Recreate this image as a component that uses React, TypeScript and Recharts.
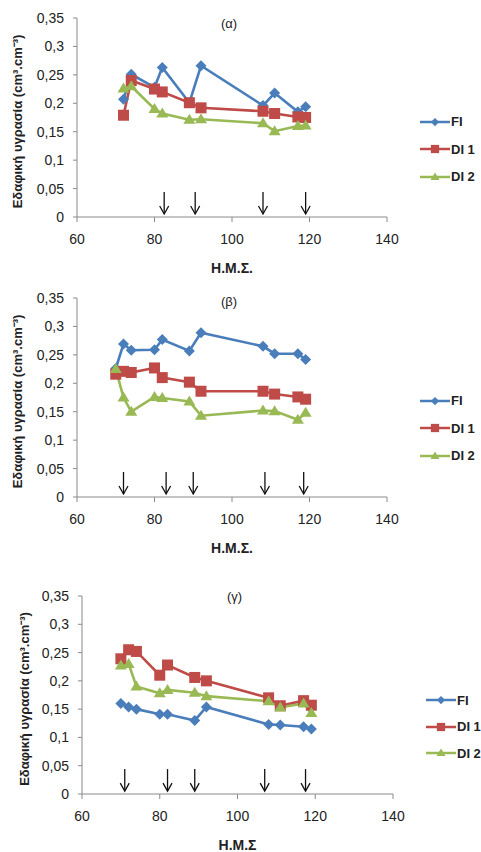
import React from 'react';
import { ComposedChart, Line, Scatter, XAxis, YAxis, Legend } from 'recharts';

// days after sowing (Η.Μ.Σ.)
const daysA = [72, 74, 80, 82, 89, 92, 108, 111, 117, 119];
const daysBG = [70, 72, 74, 80, 82, 89, 92, 108, 111, 117, 119];

// (α)
const fiA = [0.207, 0.251, 0.228, 0.263, 0.201, 0.266, 0.196, 0.218, 0.185, 0.194];
const di1A = [0.179, 0.24, 0.225, 0.22, 0.201, 0.192, 0.186, 0.182, 0.176, 0.175];
const di2A = [0.226, 0.23, 0.19, 0.182, 0.171, 0.172, 0.165, 0.151, 0.16, 0.161];
const irrigA = [82.5, 90.5, 108, 119];

// (β)
const fiB = [0.226, 0.269, 0.258, 0.259, 0.277, 0.257, 0.289, 0.265, 0.252, 0.252, 0.242];
const di1B = [0.216, 0.221, 0.219, 0.227, 0.21, 0.202, 0.186, 0.186, 0.181, 0.176, 0.172];
const di2B = [0.225, 0.175, 0.15, 0.176, 0.174, 0.168, 0.143, 0.152, 0.151, 0.136, 0.148];
const irrigB = [72, 83, 90, 108.5, 118.5];

// (γ)
const fiG = [0.16, 0.154, 0.15, 0.141, 0.141, 0.13, 0.154, 0.123, 0.122, 0.119, 0.115];
const di1G = [0.239, 0.255, 0.252, 0.21, 0.228, 0.206, 0.2, 0.17, 0.156, 0.165, 0.157];
const di2G = [0.227, 0.23, 0.19, 0.178, 0.184, 0.179, 0.173, 0.164, 0.153, 0.16, 0.143];
const irrigG = [71, 82, 89, 107, 117.5];

const arrowTop = 0.044;
const xTicks = [60, 80, 100, 120, 140];
const yTicks = [0, 0.05, 0.1, 0.15, 0.2, 0.25, 0.3, 0.35];
const seriesNames = ['FI', 'DI 1', 'DI 2'];
const yTitle = 'Εδαφική υγρασία (cm³.cm⁻³)';

const BLUE = '#4A7EBB';
const RED = '#BE4B48';
const GREEN = '#98B954';
const FONT = '"Liberation Sans", Arial, sans-serif';
const AXIS = '#8a8a8a';

const toRows = (xs: number[], ys: number[]) => xs.map((x, i) => ({ x, y: ys[i] }));
const fmt = (v: number) => String(v).replace('.', ',');

const drawMarker = (name: string, cx: number, cy: number, small = false) => {
  const k = small ? 0.75 : 1;
  if (name === 'FI') {
    const r = 5.5 * k;
    return <path d={`M${cx},${cy - r}L${cx + r},${cy}L${cx},${cy + r}L${cx - r},${cy}Z`} fill={BLUE} />;
  }
  if (name === 'DI 1') {
    const s = 11 * k;
    return <rect x={cx - s / 2} y={cy - s / 2} width={s} height={s} fill={RED} />;
  }
  const w = 12 * k;
  const h = 10 * k;
  return <path d={`M${cx},${cy - h * 0.6}L${cx + w / 2},${cy + h * 0.4}L${cx - w / 2},${cy + h * 0.4}Z`} fill={GREEN} />;
};

const dotFor = (name: string) => (p: any) => (
  <g key={`${name}-${p.index}`}>{drawMarker(name, p.cx, p.cy)}</g>
);

const Arrow = (p: any) => {
  const { cx, cy } = p;
  const L = 22;
  return (
    <g stroke="#111" strokeWidth={1.3} fill="none">
      <line x1={cx} y1={cy} x2={cx} y2={cy + L} />
      <polyline points={`${cx - 4.5},${cy + L - 8} ${cx},${cy + L} ${cx + 4.5},${cy + L - 8}`} />
    </g>
  );
};

const colorOf: Record<string, string> = { FI: BLUE, 'DI 1': RED, 'DI 2': GREEN };

const LegendBox = ({ gap }: { gap: number }) => (
  <div style={{ fontFamily: FONT, fontSize: 13, fontWeight: 'bold', color: '#222' }}>
    {seriesNames.map((n) => (
      <div key={n} style={{ display: 'flex', alignItems: 'center', height: gap }}>
        <svg width={30} height={14}>
          <line x1={0} y1={7} x2={30} y2={7} stroke={colorOf[n]} strokeWidth={2.5} />
          {drawMarker(n, 15, 7, true)}
        </svg>
        <span style={{ marginLeft: 1, whiteSpace: 'nowrap' }}>{n}</span>
      </div>
    ))}
  </div>
);

type PanelProps = {
  top: number;
  height: number;
  days: number[];
  fi: number[];
  di1: number[];
  di2: number[];
  irrig: number[];
  title: string;
  xTitle: string;
  plot: { l: number; r: number; t: number; b: number };
  yTitleX: number;
  titleY: number;
  legend: { x: number; y: number; gap: number };
};

const Panel = ({ top, height, days, fi, di1, di2, irrig, title, xTitle, plot, yTitleX, titleY, legend }: PanelProps) => {
  const yW = 50;
  const xH = 56;
  const legW = 60;
  const series = [
    { name: 'FI', data: toRows(days, fi), color: BLUE },
    { name: 'DI 1', data: toRows(days, di1), color: RED },
    { name: 'DI 2', data: toRows(days, di2), color: GREEN },
  ];
  return (
    <div style={{ position: 'absolute', left: 0, top, width: 481, height }}>
      <ComposedChart
        width={481}
        height={height}
        margin={{ top: plot.t, left: plot.l - yW, right: 481 - plot.r - legW, bottom: height - plot.b - xH }}
      >
        <XAxis
          type="number"
          dataKey="x"
          domain={[60, 140]}
          ticks={xTicks}
          height={xH}
          stroke={AXIS}
          tickSize={5}
          tickMargin={12}
          tick={{ fill: '#222', fontSize: 14, fontFamily: FONT }}
          label={{ value: xTitle, position: 'insideBottom', offset: 0, fill: '#222', fontSize: 14, fontWeight: 'bold', fontFamily: FONT }}
        />
        <YAxis
          type="number"
          domain={[0, 0.35]}
          ticks={yTicks}
          width={yW}
          stroke={AXIS}
          tickSize={4}
          tickMargin={9}
          tickFormatter={fmt}
          tick={{ fill: '#222', fontSize: 14, fontFamily: FONT }}
          label={() => {
            const cy = plot.t + (plot.b - plot.t) / 2 + 4;
            return (
              <text
                x={yTitleX}
                y={cy}
                transform={`rotate(-90, ${yTitleX}, ${cy})`}
                textAnchor="middle"
                dominantBaseline="central"
                fill="#222"
                fontSize={13}
                fontWeight="bold"
                fontFamily={FONT}
              >
                {yTitle}
              </text>
            );
          }}
        />
        <Legend
          layout="vertical"
          align="right"
          verticalAlign="top"
          wrapperStyle={{ left: legend.x, top: legend.y, width: legW }}
          content={() => <LegendBox gap={legend.gap} />}
        />
        {series.map((s) => (
          <Line
            key={s.name}
            name={s.name}
            data={s.data}
            dataKey="y"
            stroke={s.color}
            strokeWidth={2.6}
            dot={dotFor(s.name)}
            activeDot={false}
            isAnimationActive={false}
          />
        ))}
        <Scatter
          data={irrig.map((x) => ({ x, y: arrowTop }))}
          dataKey="y"
          shape={Arrow}
          legendType="none"
          isAnimationActive={false}
        />
      </ComposedChart>
      <div
        style={{
          position: 'absolute',
          left: 0,
          width: 2 * ((plot.l + plot.r) / 2 - 3),
          top: titleY - 8,
          textAlign: 'center',
          fontFamily: FONT,
          fontSize: 13,
          color: '#222',
        }}
      >
        {title}
      </div>
    </div>
  );
};

export default function App() {
  return (
    <div style={{ position: 'absolute', left: 0, top: 0, width: 481, height: 852, overflow: 'hidden', background: '#fff' }}>
      <Panel
        top={0}
        height={280}
        days={daysA}
        fi={fiA}
        di1={di1A}
        di2={di2A}
        irrig={irrigA}
        title="(α)"
        xTitle="Η.Μ.Σ."
        plot={{ l: 77, r: 387, t: 18, b: 217 }}
        yTitleX={17}
        titleY={24}
        legend={{ x: 420, y: 108, gap: 27.5 }}
      />
      <Panel
        top={280}
        height={280}
        days={daysBG}
        fi={fiB}
        di1={di1B}
        di2={di2B}
        irrig={irrigB}
        title="(β)"
        xTitle="Η.Μ.Σ."
        plot={{ l: 77, r: 387, t: 18, b: 217 }}
        yTitleX={17}
        titleY={22}
        legend={{ x: 420, y: 107, gap: 27.5 }}
      />
      <Panel
        top={560}
        height={292}
        days={daysBG}
        fi={fiG}
        di1={di1G}
        di2={di2G}
        irrig={irrigG}
        title="(γ)"
        xTitle="Η.Μ.Σ"
        plot={{ l: 82, r: 393, t: 36, b: 234 }}
        yTitleX={24}
        titleY={37}
        legend={{ x: 426, y: 127, gap: 26.5 }}
      />
    </div>
  );
}
